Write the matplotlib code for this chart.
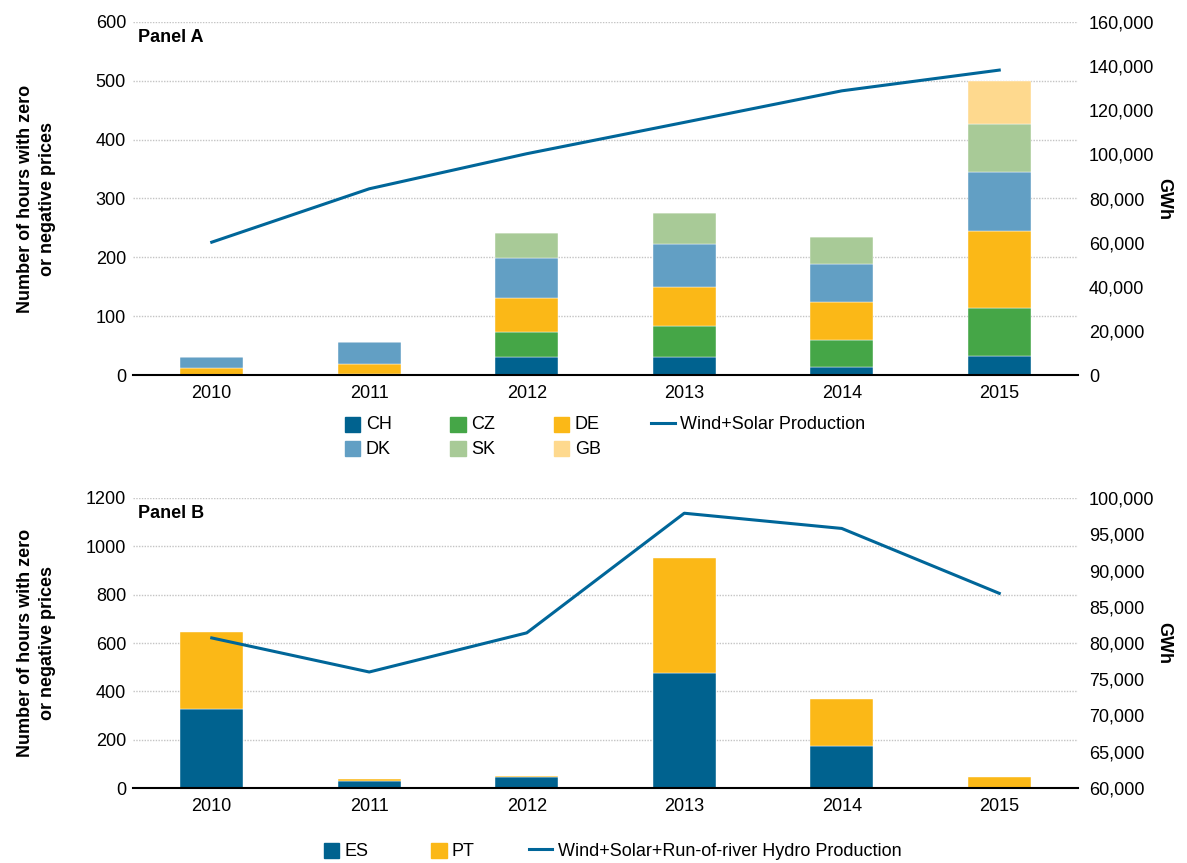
import matplotlib
matplotlib.use("Agg")
import matplotlib.pyplot as plt
import matplotlib.patches as mpatches
from matplotlib.legend_handler import HandlerPatch
from matplotlib.ticker import FuncFormatter
import numpy as np

plt.rcParams['font.family'] = ['Liberation Sans', 'DejaVu Sans']

years = ['2010', '2011', '2012', '2013', '2014', '2015']

# Panel A (hours with zero or negative prices)
ch = [0, 2, 31, 31, 14, 33]
cz = [0, 0, 42, 53, 45, 81]
de = [12, 17, 58, 65, 65, 130]
dk = [18, 37, 68, 73, 65, 101]
sk = [0, 0, 43, 53, 45, 81]
gb = [0, 0, 0, 0, 0, 74]
wind_solar = [60200, 84400, 100300, 114500, 128800, 138200]

# Panel B
es = [328, 28, 44, 476, 175, 0]
pt = [319, 11, 7, 474, 195, 47]
wind_solar_hydro = [80700, 76000, 81400, 97900, 95800, 86850]

C_CH = '#00628F'
C_CZ = '#45A647'
C_DE = '#FBB817'
C_DK = '#629FC4'
C_SK = '#A8CA97'
C_GB = '#FED98E'
C_LINE = '#006699'

FS = 13

fig = plt.figure(figsize=(11.87, 8.63), dpi=100)
W, H = 1187, 863


def add_axes(left, top, right, bottom):
    return fig.add_axes([left / W, 1 - bottom / H, (right - left) / W, (bottom - top) / H])


axA = add_axes(133, 22, 1078, 375)
axB = add_axes(133, 498, 1078, 788)

x = np.arange(len(years))
bw = 0.4


def style(ax, ax2, ylim, yticks, ylim2, yticks2, fmt2, label, label_y):
    ax.set_xlim(-0.5, len(years) - 0.5)
    ax.set_ylim(*ylim)
    ax.set_yticks(yticks)
    ax.set_xticks(x)
    ax.set_xticklabels(years)
    ax.tick_params(axis='x', length=0, pad=7, labelsize=FS)
    ax.tick_params(axis='y', length=0, pad=5, labelsize=FS)
    ax.set_axisbelow(True)
    ax.grid(axis='y', color='#C4C4C4', linestyle=(0, (1, 1)), linewidth=1.0)
    for s in ['left', 'right', 'top']:
        ax.spines[s].set_visible(False)
    ax.spines['bottom'].set_linewidth(1.5)
    ax.spines['bottom'].set_color('black')
    ax.set_ylabel('Number of hours with zero\nor negative prices', fontsize=FS,
                  fontweight='bold', linespacing=1.45)
    ax.yaxis.set_label_coords(-0.081, 0.5)
    ax2.set_ylim(*ylim2)
    ax2.set_yticks(yticks2)
    ax2.yaxis.set_major_formatter(FuncFormatter(fmt2))
    ax2.tick_params(axis='y', length=0, pad=8, labelsize=FS)
    for s in ['left', 'right', 'top', 'bottom']:
        ax2.spines[s].set_visible(False)
    ax2.set_ylabel('GWh', fontsize=FS, fontweight='bold', rotation=270)
    ax2.yaxis.set_label_coords(1.10, 0.5)
    ax.text(0.005, label_y, label, transform=ax.transAxes,
            fontsize=FS, fontweight='bold', va='center', ha='left')


def square_patch(legend, orig_handle, xdescent, ydescent, width, height, fontsize):
    s = 0.85 * fontsize
    return mpatches.Rectangle((-xdescent + width - s, -ydescent + (height - s) / 2 - 1), s, s)


comma = lambda v, p: f'{int(v):,}'
hmap = {mpatches.Rectangle: HandlerPatch(patch_func=square_patch)}

# ---- Panel A ----
axA2 = axA.twinx()
bottom = np.zeros(len(years))
series_A = [(ch, C_CH, 'CH'), (cz, C_CZ, 'CZ'), (de, C_DE, 'DE'),
            (dk, C_DK, 'DK'), (sk, C_SK, 'SK'), (gb, C_GB, 'GB')]
for vals, col, name in series_A:
    axA.bar(x, vals, bw, bottom=bottom, color=col, edgecolor='white', linewidth=0.3, label=name)
    bottom += np.array(vals)
lA, = axA2.plot(x, wind_solar, color=C_LINE, linewidth=2.2, label='Wind+Solar Production')
style(axA, axA2, (0, 600), range(0, 601, 100), (0, 160000), range(0, 160001, 20000), comma,
      'Panel A', 0.955)

cols = {n: c for _, c, n in series_A}
orderA = ['CH', 'DK', 'CZ', 'SK', 'DE', 'GB']
handlesA = [mpatches.Rectangle((0, 0), 1, 1, color=cols[n]) for n in orderA] + [lA]
fig.legend(handlesA, orderA + ['Wind+Solar Production'], ncol=4, loc='center left',
           bbox_to_anchor=(337 / W, 1 - 437 / H),
           frameon=False, fontsize=FS, handlelength=1.3, handletextpad=0.3,
           columnspacing=2.8, labelspacing=0.4, borderpad=0, borderaxespad=0,
           handler_map=hmap)

# ---- Panel B ----
axB2 = axB.twinx()
axB.bar(x, es, bw, color=C_CH, edgecolor='white', linewidth=0.3, label='ES')
axB.bar(x, pt, bw, bottom=es, color=C_DE, edgecolor='white', linewidth=0.3, label='PT')
lB, = axB2.plot(x, wind_solar_hydro, color=C_LINE, linewidth=2.2,
                label='Wind+Solar+Run-of-river Hydro Production')
style(axB, axB2, (0, 1200), range(0, 1201, 200), (60000, 100000), range(60000, 100001, 5000), comma,
      'Panel B', 0.945)

handlesB = [mpatches.Rectangle((0, 0), 1, 1, color=C_CH), mpatches.Rectangle((0, 0), 1, 1, color=C_DE), lB]
fig.legend(handlesB, ['ES', 'PT', 'Wind+Solar+Run-of-river Hydro Production'], ncol=3,
           loc='center left', bbox_to_anchor=(316 / W, 1 - 851 / H),
           frameon=False, fontsize=FS, handlelength=1.3, handletextpad=0.3,
           columnspacing=3.0, borderpad=0, borderaxespad=0, handler_map=hmap)

fig.savefig('out.png', dpi=100)
